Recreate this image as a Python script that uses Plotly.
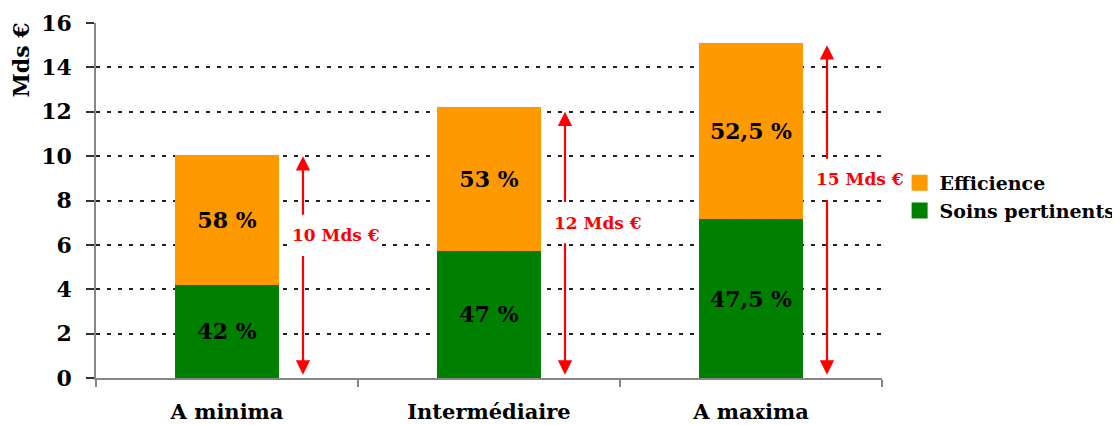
import plotly.graph_objects as go

# ---- data ----
categories = ["A minima", "Intermédiaire", "A maxima"]
soins_pertinents = [4.2, 5.73, 7.15]
efficience = [5.85, 6.47, 7.95]
soins_labels = ["42 %", "47 %", "47,5 %"]
efficience_labels = ["58 %", "53 %", "52,5 %"]
total_mds = [10, 12, 15]
total_labels = ["10 Mds €", "12 Mds €", "15 Mds €"]
y_ticks = [0, 2, 4, 6, 8, 10, 12, 14, 16]

FONT = "DejaVu Serif"
GREEN = "#008000"
ORANGE = "#FF9900"
RED = "#FF0000"

fig = go.Figure()
fig.add_trace(go.Bar(
    x=categories, y=soins_pertinents, name="Soins pertinents",
    marker=dict(color=GREEN, line=dict(width=0)),
    text=soins_labels, textposition="inside", insidetextanchor="middle",
    textangle=0, textfont=dict(family=FONT, size=22, color="black", weight="bold"),
    showlegend=False, width=0.4))
fig.add_trace(go.Bar(
    x=categories, y=efficience, name="Efficience",
    marker=dict(color=ORANGE, line=dict(width=0)),
    text=efficience_labels, textposition="inside", insidetextanchor="middle",
    textangle=0, textfont=dict(family=FONT, size=22, color="black", weight="bold"),
    showlegend=False, width=0.4))

# legend entries with larger square symbols
fig.add_trace(go.Scatter(x=[None], y=[None], mode="markers", name="Efficience",
                         marker=dict(symbol="square", size=16, color=ORANGE)))
fig.add_trace(go.Scatter(x=[None], y=[None], mode="markers", name="Soins pertinents",
                         marker=dict(symbol="square", size=16, color=GREEN)))

# red double arrows with totals
arrow_dx = 0.29
label_dx = 0.125
label_y = [6.43, 7.0, 8.95]
gap = 0.86
annotations = []
for i, (tot, lab) in enumerate(zip(total_mds, total_labels)):
    xa = i + arrow_dx
    annotations.append(dict(x=xa, y=tot, ax=xa, ay=label_y[i] + gap, xref="x", yref="y",
                            axref="x", ayref="y", text="", showarrow=True,
                            arrowhead=2, arrowsize=1.3, arrowwidth=2.2, arrowcolor=RED))
    annotations.append(dict(x=xa, y=0.15, ax=xa, ay=label_y[i] - gap, xref="x", yref="y",
                            axref="x", ayref="y", text="", showarrow=True,
                            arrowhead=2, arrowsize=1.3, arrowwidth=2.2, arrowcolor=RED))
    annotations.append(dict(x=i + arrow_dx + label_dx, y=label_y[i], xref="x", yref="y",
                            text=lab, showarrow=False, bgcolor="white",
                            font=dict(family=FONT, size=17, color=RED, weight="bold"),
                            xanchor="center", yanchor="middle"))

annotations.append(dict(x=-0.095, y=0.895, xref="paper", yref="paper", text="Mds €",
                        textangle=-90, showarrow=False,
                        font=dict(family=FONT, size=22, color="black", weight="bold"),
                        xanchor="center", yanchor="middle"))

fig.update_layout(
    barmode="stack",
    width=1112, height=417,
    margin=dict(l=88, r=238, t=15, b=47, autoexpand=False),
    plot_bgcolor="white", paper_bgcolor="white",
    font=dict(family=FONT, color="black"),
    annotations=annotations,
    legend=dict(x=1.0224, y=0.603, xanchor="left", yanchor="top", traceorder="normal",
                font=dict(family=FONT, size=19, color="black", weight="bold"),
                itemwidth=30, tracegroupgap=0, bgcolor="rgba(0,0,0,0)"),
    xaxis=dict(type="category", range=[-0.5, 2.5], showgrid=False, automargin=False,
               showline=True, linecolor="#868686", linewidth=1.5,
               ticks="outside", tickson="boundaries", ticklen=7, tickcolor="#868686",
               tickwidth=1.5, ticklabelstandoff=14,
               tickfont=dict(family=FONT, size=21, color="black", weight="bold")),
    yaxis=dict(range=[0, 16], tickvals=y_ticks, showgrid=True, gridcolor="#222222",
               griddash="4px,7px", gridwidth=2, zeroline=False, automargin=False,
               showline=True, linecolor="#868686", linewidth=1.5,
               ticks="outside", ticklen=8, tickcolor="#333333", tickwidth=1.5,
               ticklabelstandoff=10,
               tickfont=dict(family=FONT, size=22, color="black", weight="bold")),
)

fig.write_html("out.html")
